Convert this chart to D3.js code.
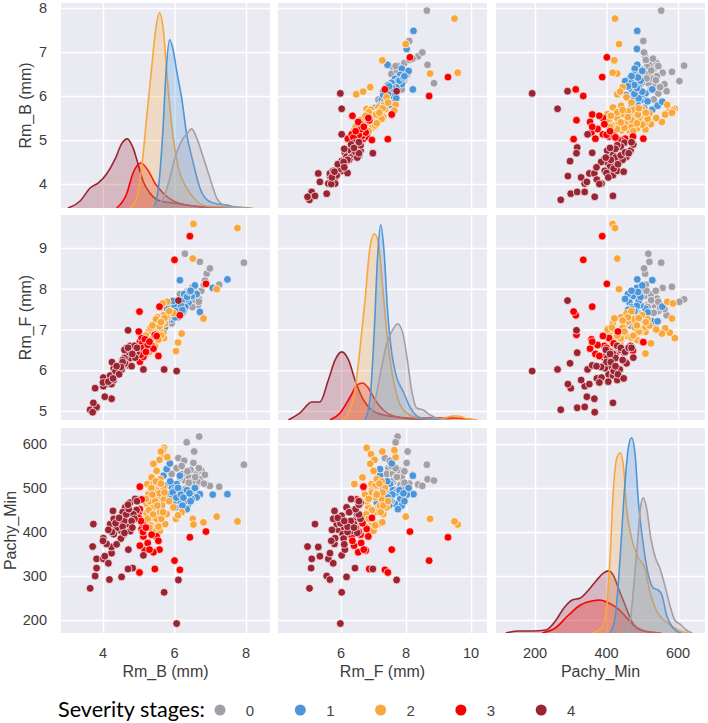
<!DOCTYPE html>
<html lang="en">
<head>
<meta charset="UTF-8"/>
<title>Pair plot of severity stages</title>
<script src="https://d3js.org/d3.v7.min.js"></script>
<style>
  body { margin: 0; background: #ffffff; }
</style>
</head>
<body>
<script>
    // Variables, stages and axis setup
    var columns = ["Rm_B (mm)", "Rm_F (mm)", "Pachy_Min"];
    var stageNames = ["0", "1", "2", "3", "4"];
    var stageColors = ["#a39fa7", "#4c95d8", "#f8a73d", "#f70000", "#9b2432"];

    var colLimits = [[2.825, 8.671], [4.062, 10.49], [90.9, 675.5]];
    var rowLimits = [[3.455, 8.114], [4.779, 9.81], [170.5, 636.4]];
    var xTicks = [[4, 6, 8], [6, 8, 10], [200, 400, 600]];
    var yTicks = [[4, 5, 6, 7, 8], [5, 6, 7, 8, 9], [200, 300, 400, 500, 600]];

    // Points: [Rm_B, Rm_F, Pachy_Min]
    var stage0 = [
        [7.94, 8.64, 553], [6.69, 7.74, 617], [6.34, 7.68, 604], [6.55, 8.05, 583],
        [6.11, 7.35, 568], [6.27, 7.50, 562], [6.53, 8.02, 557], [6.06, 7.46, 545],
        [6.45, 7.76, 541], [5.92, 7.15, 532], [6.23, 7.41, 532], [6.62, 7.60, 532],
        [6.71, 8.66, 520], [6.29, 8.86, 517], [6.90, 8.37, 508], [7.25, 8.10, 503],
        [6.99, 8.50, 505], [6.39, 7.83, 507], [6.48, 8.02, 492], [6.66, 7.60, 513],
        [6.30, 7.60, 498], [6.15, 7.87, 524], [6.40, 7.70, 525], [6.50, 7.55, 515],
        [6.58, 7.72, 525], [6.75, 7.95, 540], [6.82, 8.10, 510], [6.36, 7.95, 538],
        [6.60, 7.90, 500], [6.20, 7.55, 550], [6.85, 8.20, 530], [6.40, 7.95, 512],
        [6.68, 7.68, 545]
    ];
    var stage1 = [
        [7.48, 8.23, 486], [7.07, 8.02, 485], [6.71, 7.43, 486], [6.62, 7.87, 479],
        [6.48, 7.82, 475], [6.39, 7.66, 464], [6.27, 7.87, 460], [6.34, 7.75, 452],
        [6.15, 7.41, 471], [6.11, 7.51, 483], [5.97, 7.41, 464], [5.64, 7.10, 467],
        [6.06, 7.51, 509], [5.92, 7.25, 502], [5.73, 7.05, 505], [5.83, 7.30, 486],
        [5.69, 7.20, 528], [5.78, 7.20, 543], [5.87, 7.56, 556], [6.15, 8.21, 528],
        [6.57, 8.08, 500], [6.00, 7.60, 495], [6.20, 7.70, 490], [5.90, 7.35, 475],
        [6.30, 7.55, 470], [5.95, 7.70, 490], [6.05, 7.45, 478], [6.10, 7.30, 500],
        [6.18, 7.58, 485], [6.25, 7.45, 478], [6.35, 7.80, 495], [6.42, 7.92, 488],
        [6.02, 7.30, 455], [5.80, 7.50, 470], [6.22, 7.48, 460], [5.88, 7.42, 515],
        [6.45, 7.95, 470]
    ];
    var stage2 = [
        [5.71, 6.79, 591], [5.69, 6.92, 577], [5.80, 7.68, 570], [5.67, 7.64, 586],
        [5.58, 7.03, 564], [5.62, 7.27, 583], [5.41, 6.90, 555], [5.50, 7.00, 539],
        [5.36, 6.66, 524], [5.24, 6.41, 509], [5.41, 6.94, 509], [5.59, 7.05, 505],
        [5.27, 6.74, 486], [5.50, 6.94, 494], [5.69, 7.25, 475], [5.50, 7.05, 479],
        [5.22, 6.53, 464], [5.41, 6.84, 456], [5.59, 7.15, 456], [5.78, 7.30, 441],
        [5.59, 7.05, 445], [5.22, 6.74, 442], [5.36, 6.74, 433], [5.55, 6.94, 422],
        [5.74, 7.15, 418], [5.17, 6.48, 418], [5.45, 6.85, 407], [5.59, 7.00, 403],
        [5.97, 7.40, 456], [6.20, 6.90, 445], [6.04, 6.47, 430], [6.10, 6.68, 438],
        [6.51, 8.74, 430], [6.53, 9.59, 417], [6.81, 7.27, 422], [7.18, 7.99, 435],
        [7.76, 9.49, 424], [5.30, 6.80, 470], [5.45, 6.95, 490], [5.60, 7.10, 520],
        [5.35, 6.70, 500], [5.50, 6.90, 430], [5.65, 7.20, 460], [5.25, 6.60, 430],
        [5.70, 7.35, 500], [5.28, 6.95, 450], [5.33, 7.05, 415], [5.40, 6.78, 440],
        [5.46, 6.60, 470], [5.52, 7.30, 460], [5.58, 7.08, 488], [5.63, 6.85, 430],
        [5.68, 7.22, 445], [5.72, 7.28, 490], [5.48, 7.25, 515], [5.38, 7.10, 485],
        [5.30, 6.45, 410], [5.55, 6.75, 412], [5.62, 7.18, 510], [5.85, 7.45, 470],
        [5.20, 6.85, 475]
    ];
    var stage3 = [
        [5.03, 6.69, 503], [5.08, 6.48, 474], [5.03, 6.21, 452], [4.99, 6.48, 441],
        [5.08, 6.79, 407], [5.10, 6.66, 420], [6.43, 9.29, 388], [6.88, 8.12, 401],
        [6.00, 8.71, 335], [6.15, 7.35, 314], [5.02, 7.44, 308], [5.45, 6.87, 316],
        [5.58, 7.56, 360], [5.13, 6.33, 390], [5.50, 6.84, 390], [5.36, 6.60, 394],
        [5.41, 6.53, 354], [5.17, 6.76, 358], [5.03, 6.40, 369], [5.00, 6.95, 432],
        [5.55, 6.35, 380], [5.12, 6.55, 400], [5.25, 6.62, 375], [5.06, 6.38, 425],
        [5.30, 6.70, 360], [5.20, 6.45, 410]
    ];
    var stage4 = [
        [3.64, 5.03, 272], [3.78, 5.56, 300], [3.82, 5.08, 318], [3.82, 5.10, 339],
        [3.71, 4.97, 367], [3.73, 5.20, 418], [4.18, 5.66, 292], [4.52, 6.17, 298],
        [4.83, 6.43, 318], [4.70, 6.98, 316], [4.01, 5.61, 339], [4.15, 5.76, 329],
        [5.13, 6.02, 347], [4.24, 5.66, 352], [4.71, 6.12, 360], [4.24, 5.30, 366],
        [4.05, 5.35, 345], [4.10, 5.80, 373], [4.01, 5.82, 386], [4.57, 6.12, 394],
        [4.48, 6.02, 404], [4.34, 5.90, 406], [4.76, 6.30, 402], [4.20, 5.87, 418],
        [4.43, 6.00, 418], [4.66, 6.40, 418], [4.30, 5.76, 430], [4.52, 6.02, 437],
        [4.62, 6.17, 456], [4.94, 6.43, 450], [4.76, 6.60, 467], [4.90, 6.31, 475],
        [5.71, 6.02, 263], [6.06, 5.98, 192], [6.11, 7.71, 291], [4.60, 6.30, 425],
        [4.85, 6.50, 440], [4.40, 6.10, 410], [4.00, 5.70, 380], [4.88, 6.60, 430],
        [4.55, 6.25, 445], [4.30, 6.05, 395], [4.25, 6.20, 400], [4.35, 5.98, 420],
        [4.45, 5.90, 432], [4.55, 6.20, 412], [4.65, 6.55, 440], [4.72, 6.45, 452],
        [4.80, 6.10, 425], [4.50, 6.08, 385], [4.38, 6.10, 372], [4.60, 6.50, 398],
        [4.15, 5.72, 405], [4.28, 5.80, 448], [4.70, 6.55, 462], [4.95, 6.55, 470],
        [4.82, 6.40, 410]
    ];
    var stagePoints = [stage0, stage1, stage2, stage3, stage4];

    // Diagonal density curves: [value, relative density]
    var kdeRmB = [
        [[5.36,0],[5.69,10],[5.87,30],[6.01,50],[6.2,67],[6.36,75],[6.48,79],[6.62,70],[6.81,50],[6.99,30],[7.18,10],[7.37,3],[7.6,1],[8.1,0]],
        [[5.41,0],[5.55,20],[5.67,74],[5.76,134],[5.86,168],[5.95,160],[6.06,137],[6.2,110],[6.34,74],[6.51,47],[6.71,20],[6.95,7],[7.2,4],[7.46,3],[7.7,1],[8.1,0]],
        [[4.76,0],[4.94,10],[5.08,40],[5.22,90],[5.36,140],[5.48,180],[5.58,195],[5.69,177],[5.81,124],[5.95,74],[6.11,40],[6.34,20],[6.62,7],[6.9,2],[7.6,1],[8.2,0]],
        [[4.38,0],[4.66,14],[4.84,35],[5.06,45],[5.27,37],[5.45,25],[5.68,15],[5.97,7],[6.34,3],[6.9,1],[7.64,0]],
        [[3.02,0],[3.36,7],[3.64,20],[3.87,25],[4.1,34],[4.34,49],[4.52,64],[4.68,69],[4.84,60],[4.98,44],[5.12,27],[5.31,15],[5.6,7],[5.97,5],[6.34,3],[6.71,1],[7.2,0]]
    ];
    var kdeRmF = [
        [[6.79,0],[7.05,20],[7.25,53],[7.41,77],[7.59,90],[7.74,96],[7.9,87],[8.04,60],[8.17,30],[8.33,12],[8.53,10],[8.74,5],[9.05,1],[9.4,0]],
        [[6.74,0],[6.89,20],[7.02,87],[7.12,160],[7.22,195],[7.32,170],[7.43,110],[7.56,67],[7.71,43],[7.92,28],[8.12,13],[8.38,3],[8.74,1],[9.1,0]],
        [[6.02,0],[6.23,7],[6.43,30],[6.58,70],[6.74,120],[6.87,167],[7.02,186],[7.15,177],[7.28,133],[7.43,80],[7.59,43],[7.76,20],[8.02,7],[8.43,2],[8.94,1],[9.2,2],[9.45,4],[9.6,4],[9.87,1],[10.17,0]],
        [[5.66,0],[5.97,7],[6.28,23],[6.5,35],[6.66,37],[6.84,32],[7.05,20],[7.3,10],[7.61,4],[8.12,2],[8.94,2],[9.46,2],[10.17,0]],
        [[4.38,0],[4.74,7],[5.1,18],[5.35,18],[5.61,40],[5.82,60],[6.02,68],[6.23,60],[6.43,40],[6.69,20],[6.94,10],[7.3,5],[7.71,3],[8.12,1],[8.74,0]]
    ];
    var kdePachy = [
        [[452,0],[466,12],[475,42],[487,92],[496,128],[503,135],[512,125],[524,95],[537,75],[549,65],[563,48],[577,28],[591,13],[609,8],[623,3],[640,0]],
        [[410,0],[424,15],[438,75],[450,142],[461,185],[470,195],[480,178],[489,132],[503,88],[517,58],[531,45],[544,43],[555,38],[568,18],[582,7],[595,2],[610,0]],
        [[359,0],[387,5],[401,28],[410,75],[419,142],[429,175],[438,180],[447,168],[456,125],[470,95],[489,75],[507,65],[521,42],[540,22],[554,15],[572,10],[591,5],[614,1],[630,0]],
        [[220,0],[257,5],[294,18],[327,28],[359,32],[382,33],[406,30],[429,25],[452,17],[475,8],[498,3],[526,1],[554,0]],
        [[118,0],[156,2],[193,2],[230,3],[257,12],[281,25],[304,33],[327,35],[350,43],[373,53],[392,60],[406,62],[420,57],[433,45],[452,28],[470,12],[489,4],[517,1],[544,0]]
    ];
    var kdeData = [kdeRmB, kdeRmF, kdePachy];

    // Grid layout
    var cellW = 209, cellH = 205;
    var colX = [61, 278, 496];
    var rowY = [3, 215, 428];
    var axisFont = "'Liberation Sans', Arial, sans-serif";
    var textColor = "#3c3c3c";

    var svg = d3.select("body")
                .append("svg")
                .attr("width", 708)
                .attr("height", 723);

    var xScales = colLimits.map(function(lim) {
        return d3.scaleLinear().domain(lim).range([0, cellW]);
    });
    var yScales = rowLimits.map(function(lim) {
        return d3.scaleLinear().domain(lim).range([cellH, 0]);
    });

    var allPoints = [];
    stagePoints.forEach(function(pts, s) {
        pts.forEach(function(p) { allPoints.push({ stage: s, v: p }); });
    });

    for (var r = 0; r < 3; r++) {
        for (var c = 0; c < 3; c++) {
            var g = svg.append("g")
                       .attr("transform", "translate(" + colX[c] + "," + rowY[r] + ")");

            g.append("clipPath")
             .attr("id", "clip-" + r + "-" + c)
             .append("rect")
             .attr("width", cellW)
             .attr("height", cellH);

            g.append("rect")
             .attr("width", cellW)
             .attr("height", cellH)
             .attr("fill", "#eaeaf2");

            // White grid lines
            var gx = g.append("g")
                      .call(d3.axisBottom(xScales[c]).tickValues(xTicks[c]).tickSize(cellH).tickFormat(""));
            var gy = g.append("g")
                      .call(d3.axisRight(yScales[r]).tickValues(yTicks[r]).tickSize(cellW).tickFormat(""));
            [gx, gy].forEach(function(a) {
                a.select(".domain").remove();
                a.selectAll("line").attr("stroke", "#ffffff").attr("stroke-width", 1.4);
            });

            var plot = g.append("g").attr("clip-path", "url(#clip-" + r + "-" + c + ")");

            if (r === c) {
                // Density curves on the diagonal
                var curves = kdeData[c];
                var dMax = d3.max(curves, function(curve) {
                    return d3.max(curve, function(d) { return d[1]; });
                });
                var dy = d3.scaleLinear().domain([0, dMax * 1.05]).range([cellH, 0]);
                var xs = xScales[c];
                var area = d3.area()
                             .x(function(d) { return xs(d[0]); })
                             .y0(cellH)
                             .y1(function(d) { return dy(d[1]); })
                             .curve(d3.curveMonotoneX);
                var line = d3.line()
                             .x(function(d) { return xs(d[0]); })
                             .y(function(d) { return dy(d[1]); })
                             .curve(d3.curveMonotoneX);
                for (var s = curves.length - 1; s >= 0; s--) {
                    plot.append("path")
                        .attr("d", area(curves[s]))
                        .attr("fill", stageColors[s])
                        .attr("fill-opacity", 0.25);
                    plot.append("path")
                        .attr("d", line(curves[s]))
                        .attr("fill", "none")
                        .attr("stroke", stageColors[s])
                        .attr("stroke-width", 1.6);
                }
            } else {
                var xi = c, yi = r;
                var sx = xScales[c], sy = yScales[r];
                plot.selectAll("circle")
                    .data(allPoints)
                    .enter()
                    .append("circle")
                    .attr("cx", function(d) { return sx(d.v[xi]); })
                    .attr("cy", function(d) { return sy(d.v[yi]); })
                    .attr("r", 3.9)
                    .attr("fill", function(d) { return stageColors[d.stage]; })
                    .attr("stroke", "#ffffff")
                    .attr("stroke-width", 0.7);
            }
        }
    }

    // Y tick labels and titles (left column)
    for (var ry = 0; ry < 3; ry++) {
        svg.append("g")
           .selectAll("text")
           .data(yTicks[ry])
           .enter()
           .append("text")
           .attr("x", colX[0] - 14)
           .attr("y", function(d) { return rowY[ry] + yScales[ry](d) + 5; })
           .attr("text-anchor", "end")
           .attr("font-family", axisFont)
           .attr("font-size", 14.5)
           .attr("fill", textColor)
           .text(function(d) { return d; });

        var lx = ry === 2 ? 16 : 31;
        svg.append("text")
           .attr("transform", "translate(" + lx + "," + (rowY[ry] + cellH / 2) + ") rotate(-90)")
           .attr("text-anchor", "middle")
           .attr("font-family", axisFont)
           .attr("font-size", 16)
           .attr("fill", textColor)
           .text(columns[ry]);
    }

    // X tick labels and titles (bottom row)
    for (var cx = 0; cx < 3; cx++) {
        svg.append("g")
           .selectAll("text")
           .data(xTicks[cx])
           .enter()
           .append("text")
           .attr("x", function(d) { return colX[cx] + xScales[cx](d); })
           .attr("y", rowY[2] + cellH + 25)
           .attr("text-anchor", "middle")
           .attr("font-family", axisFont)
           .attr("font-size", 14.5)
           .attr("fill", textColor)
           .text(function(d) { return d; });

        svg.append("text")
           .attr("x", colX[cx] + cellW / 2)
           .attr("y", rowY[2] + cellH + 44)
           .attr("text-anchor", "middle")
           .attr("font-family", axisFont)
           .attr("font-size", 16)
           .attr("fill", textColor)
           .text(columns[cx]);
    }

    // Legend
    svg.append("text")
       .attr("x", 58)
       .attr("y", 717)
       .attr("font-family", "Lato, 'Open Sans', sans-serif")
       .attr("font-size", 21)
       .attr("fill", "#000000")
       .attr("textLength", 147)
       .attr("lengthAdjust", "spacingAndGlyphs")
       .text("Severity stages:");

    var legend = svg.append("g")
                    .selectAll("g")
                    .data(stageNames)
                    .enter()
                    .append("g")
                    .attr("transform", function(d, i) { return "translate(" + (220 + i * 80.3) + ",710)"; });
    legend.append("circle")
          .attr("r", 5.5)
          .attr("fill", function(d, i) { return stageColors[i]; });
    legend.append("text")
          .attr("x", 30)
          .attr("y", 5.5)
          .attr("text-anchor", "middle")
          .attr("font-family", axisFont)
          .attr("font-size", 15)
          .attr("fill", "#444444")
          .text(function(d) { return d; });
</script>
</body>
</html>
